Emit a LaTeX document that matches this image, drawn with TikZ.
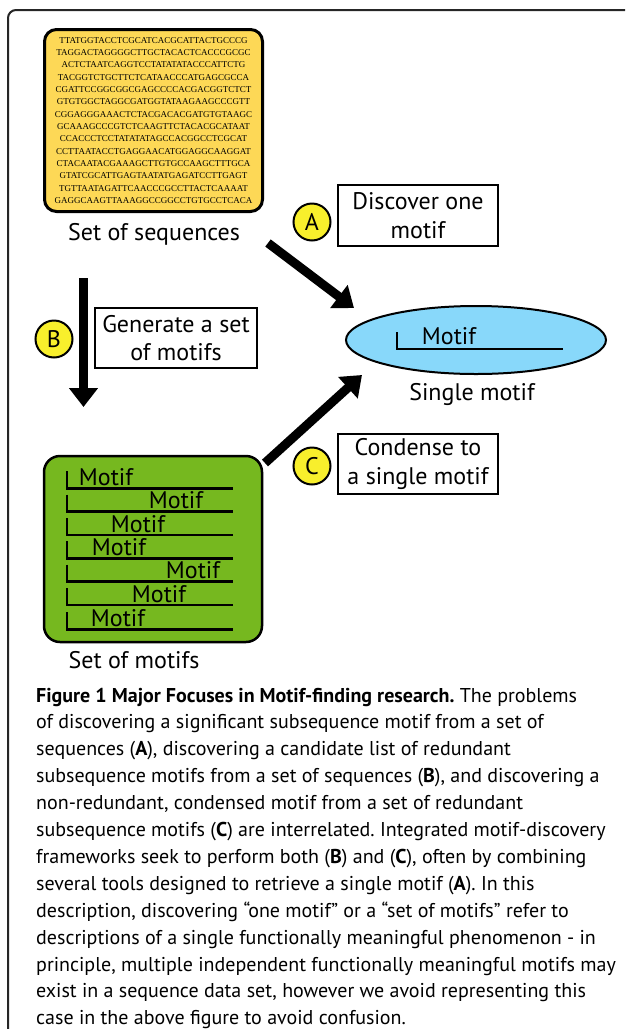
\documentclass[tikz,border=0pt]{standalone}
\usepackage{fontspec}
\setmainfont{PT Sans}
\newfontfamily\seqfont{Liberation Serif}
\usetikzlibrary{arrows.meta,shapes.geometric}
\definecolor{seqyellow}{HTML}{FDD856}
\definecolor{circyellow}{HTML}{F8EF2C}
\definecolor{motifblue}{HTML}{88D8FA}
\definecolor{motifgreen}{HTML}{76B81F}
\begin{document}
\begin{tikzpicture}[x=1pt,y=-1pt,
  bigarrow/.style={line width=9pt,-{Triangle[width=28pt,length=19pt]}},
  letter/.style={circle,draw,line width=2pt,fill=circyellow,minimum size=37pt,inner sep=0pt,font=\fontsize{24}{24}\selectfont},
  stepbox/.style={draw,line width=2pt,inner sep=0pt,align=center,font=\fontsize{24}{28.5}\selectfont},
  desc/.style={inner sep=0pt,font=\fontsize{24}{24}\selectfont},
  motiftext/.style={inner sep=0pt,font=\fontsize{24}{24}\selectfont},
  motifline/.style={line width=2.5pt,line join=miter},
  captext/.style={inner sep=0pt,font=\fontsize{20}{24}\selectfont\frenchspacing}]
\useasboundingbox (0,0) rectangle (625,1029);
% outer frame
\draw[line width=2pt,black!85,rounded corners=8pt] (8,1029) -- (8,10) -- (625,10);

% set of sequences
\node[draw,line width=3pt,rounded corners=12pt,fill=seqyellow,minimum width=218pt,minimum height=182pt,inner sep=0pt,align=center,
  font=\seqfont\fontsize{9}{12.33}\selectfont] (seq) at (153.5,120.5) {%
TTATGGTACCTCGCATCACGCATTACTGCCCG\\
TAGGACTAGGGGCTTGCTACACTCACCCGCGC\\
ACTCTAATCAGGTCCTATATATACCCATTCTG\\
TACGGTCTGCTTCTCATAACCCATGAGCGCCA\\
CGATTCCGGCGGCGAGCCCCACGACGGTCTCT\\
GTGTGGCTAGGCGATGGTATAAGAAGCCCGTT\\
CGGAGGGAAACTCTACGACACGATGTGTAAGC\\
GCAAAGCCCGTCTCAAGTTCTACACGCATAAT\\
CCACCCTCCTATATATAGCCACGGCCTCGCAT\\
CCTTAATACCTGAGGAACATGGAGGCAAGGAT\\
CTACAATACGAAAGCTTGTGCCAAGCTTTGCA\\
GTATCGCATTGAGTAATATGAGATCCTTGAGT\\
TGTTAATAGATTCAACCCGCCTTACTCAAAAT\\
GAGGCAAGTTAAAGGCCGGCCTGTGCCTCACA};
\node[desc,anchor=base] (seqlabel) at (154,240) {Set of sequences};

% single motif
\node[ellipse,draw,line width=2pt,fill=motifblue,minimum width=260pt,minimum height=68pt,inner sep=0pt] (single) at (476,340) {};
\draw[motifline] (397,332) -- (397,349) -- (563,349);
\node[motiftext,anchor=base] (singlemotif) at (449,344) {Motif};
\node[desc,anchor=base] (singlelabel) at (472,400) {Single motif};

% set of motifs
\node[draw,line width=2.5pt,rounded corners=16pt,fill=motifgreen,minimum width=218pt,minimum height=186pt,inner sep=0pt] (motifs) at (153,549) {};
\foreach \y/\cx [count=\i] in {488.3/106,511.7/176,535/138,558.3/119,581.7/193,605/159,629.3/118}{
  \draw[motifline] (67,\y-17) -- (67,\y) -- (233,\y);
  \node[motiftext,anchor=base] (m\i) at (\cx,\y-3) {Motif};
}
\node[desc,anchor=base] (motifslabel) at (134,668) {Set of motifs};

% arrows
\coordinate (aS) at (268,243);
\coordinate (aE) at (354,308);
\coordinate (bS) at (83.5,278);
\coordinate (bE) at (83.5,407);
\coordinate (cS) at (265,463);
\coordinate (cE) at (362,375);
\draw[bigarrow] (aS) -- (aE);
\draw[bigarrow] (bS) -- (bE);
\draw[bigarrow] (cS) -- (cE);

% letters and step boxes
\node[letter] (A) at (312,222) {A};
\node[letter] (B) at (54,339) {B};
\node[letter] (C) at (312,466) {C};
\node[stepbox,minimum width=160pt,minimum height=61pt] (boxA) at (418,215.5) {Discover one\\motif};
\node[stepbox,minimum width=162pt,minimum height=60pt] (boxB) at (176,338) {Generate a set\\of motifs};
\node[stepbox,minimum width=160pt,minimum height=60pt] (boxC) at (418,464) {Condense to\\a single motif};

% caption
\foreach \t [count=\i] in {%
 {\textbf{Figure 1 Major Focuses in Motif-finding research.} The problems},
 {of discovering a significant subsequence motif from a set of},
 {sequences (\textbf{A}), discovering a candidate list of redundant},
 {subsequence motifs from a set of sequences (\textbf{B}), and discovering a},
 {non-redundant, condensed motif from a set of redundant},
 {subsequence motifs (\textbf{C}) are interrelated. Integrated motif-discovery},
 {frameworks seek to perform both (\textbf{B}) and (\textbf{C}), often by combining},
 {several tools designed to retrieve a single motif (\textbf{A}). In this},
 {description, discovering “one motif” or a “set of motifs” refer to},
 {descriptions of a single functionally meaningful phenomenon - in},
 {principle, multiple independent functionally meaningful motifs may},
 {exist in a sequence data set, however we avoid representing this},
 {case in the above figure to avoid confusion.}}{
  \node[captext,anchor=base west] (cap\i) at (36,{702+(\i-1)*26.9}) {\t};
}
\end{tikzpicture}
\end{document}
